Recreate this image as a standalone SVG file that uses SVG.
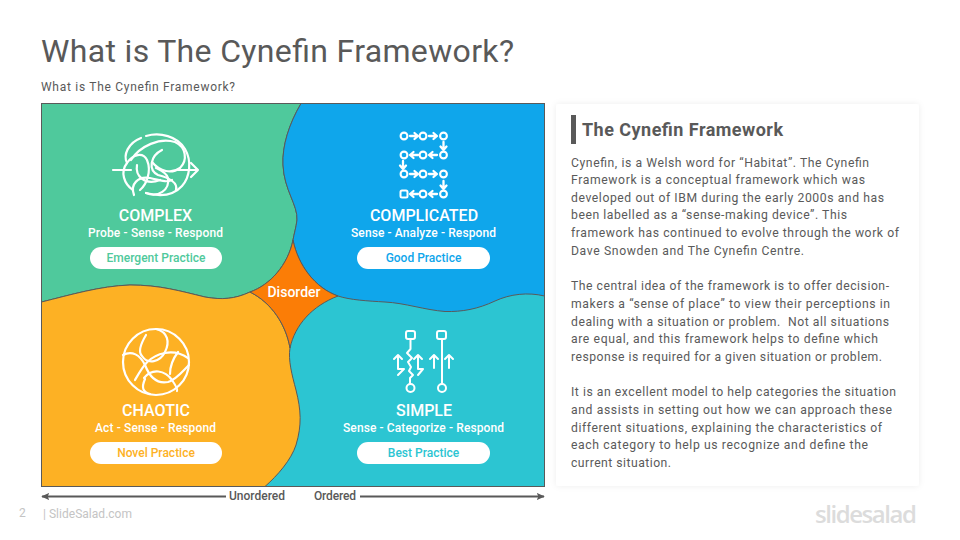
<svg xmlns="http://www.w3.org/2000/svg" width="960" height="540" viewBox="0 0 960 540">
<style>
text{font-family:Roboto,"Liberation Sans",sans-serif}
.reg{stroke:#5a5a5a;stroke-width:1;stroke-linejoin:round}
.ico{fill:none;stroke:#fff;stroke-linecap:round;stroke-linejoin:round}
.h{font-size:16px;font-weight:500;fill:#fff;text-anchor:middle}
.s{font-size:12px;font-weight:500;fill:#fff;text-anchor:middle}
.p{font-size:12px;font-weight:500;text-anchor:middle}
.b{font-size:12.2px;fill:#5a5a5a}
.ax{font-size:12px;font-weight:500;fill:#595959}
</style>
<defs>
<filter id="sh" x="-5%" y="-5%" width="110%" height="110%"><feDropShadow dx="0" dy="0" stdDeviation="3" flood-color="#000" flood-opacity=".07"/></filter>
<marker id="ah" viewBox="0 0 10 10" refX="9" refY="5" markerWidth="8" markerHeight="7" markerUnits="userSpaceOnUse" orient="auto-start-reverse" preserveAspectRatio="none"><path d="M0 0L10 5L0 10L2 5Z" fill="#595959"/></marker>
<g id="ar" class="ico" stroke-width="2.300"><path d="M-4 0H3.500M0.500 -3L4 0L0.500 3"/></g>
<circle id="dot" r="3.400" class="ico" stroke-width="2.100"/>
</defs>
<rect width="960" height="540" fill="#fff"/>
<text x="41" y="62" font-size="32" fill="#595959" textLength="473">What is The Cynefin Framework?</text>
<text x="41" y="91" font-size="12" fill="#595959" textLength="194">What is The Cynefin Framework?</text>

<g id="quadrants">
<rect x="41.500" y="103.500" width="503" height="383" fill="#2cc5d2" stroke="#5a5a5a"/>
<path id="complex-area" class="reg" fill="#4fc99c" d="M41.500 103.500H301C289 124 282 146 283 165C284 190 298 205 297 220C296 228 294 234 293 240C288 265 270 285 250 292C235 299 222 300 205 297C180 291 160 285 130 285C100 286 70 295 41.500 302Z"/>
<path id="complicated-area" class="reg" fill="#0fa6eb" d="M301 103.500H544.500V296C528 292 510 294 495 301C478 309 462 312 445 311.500C425 310 405 303 385 302C368 301 350 300 338 296C315 288 298 265 293 240C294 234 296 228 297 220C298 205 284 190 283 165C282 146 289 124 301 103.500Z"/>
<path id="chaotic-area" class="reg" fill="#fdb124" d="M41.500 302C70 295 100 286 130 285C160 285 180 291 205 297C222 300 235 299 250 292C272 303 286 325 290 348C288 360 292 375 296 390C301 410 302 425 296 445C291 460 278 475 265 486.500H41.500Z"/>
<path id="disorder-area" class="reg" fill="#fb7d06" d="M293 240C298 265 315 288 338 296C312 306 295 325 290 348C286 325 272 303 250 292C270 285 288 265 293 240Z"/>
<rect x="41.500" y="103.500" width="503" height="383" fill="none" stroke="#5a5a5a"/>
</g>

<g id="complex">
<g class="ico" stroke-width="2.200">
<path d="M113 170H131M178 170H198M191 163L198 170L191 177"/>
<path d="M146 136C160 132 177 136 185 149C192 161 190 177 182 186C172 197 157 196 146 193"/>
<path d="M141 138C128 143 123 155 127 163C120 172 124 184 133 190"/>
<path d="M131 160C140 146 160 137 175 142C186 147 188 160 180 168C172 174 160 172 152 162"/>
<path d="M127 163C133 154 143 152 147 160C152 172 146 185 140 190"/>
<path d="M137 165C135 176 145 186 160 180"/>
<path d="M134 195C130 184 138 176 150 178C160 180 165 183 172 180"/>
<path d="M146 193C158 198 170 190 168 178C166 172 160 170 156 168"/>
<path d="M162 150C150 156 148 170 158 175C170 178 178 183 176 190"/>
</g>
<text class="h" x="155.500" y="221">COMPLEX</text>
<text class="s" x="155.500" y="237" textLength="135">Probe - Sense - Respond</text>
<rect x="90" y="247" width="132" height="22" rx="11" fill="#fff"/>
<text class="p" x="156" y="262" fill="#4fc99c">Emergent Practice</text>
</g>

<g id="complicated">
<use href="#dot" x="404" y="136"/><use href="#ar" x="414" y="136"/><use href="#dot" x="423" y="136"/><use href="#ar" x="433" y="136"/><use href="#dot" x="443.500" y="136"/>
<use href="#ar" transform="translate(443.500 146) rotate(90)"/>
<use href="#dot" x="443.500" y="155"/><use href="#ar" transform="translate(433 155) rotate(180)"/><use href="#dot" x="423" y="155"/><use href="#ar" transform="translate(414 155) rotate(180)"/><use href="#dot" x="404" y="155"/>
<use href="#ar" transform="translate(403 165) rotate(90)"/>
<use href="#dot" x="404" y="174"/><use href="#ar" x="414" y="174"/><use href="#dot" x="423" y="174"/><use href="#ar" x="433" y="174"/><use href="#dot" x="443.500" y="174"/>
<use href="#ar" transform="translate(443.500 185) rotate(90)"/>
<use href="#dot" x="443.500" y="194"/><use href="#ar" transform="translate(433 194) rotate(180)"/><use href="#dot" x="423" y="194"/><use href="#ar" transform="translate(414 194) rotate(180)"/>
<rect x="400.500" y="190.500" width="7" height="7" rx="1.500" class="ico" stroke-width="2"/>
<text class="h" x="424" y="221">COMPLICATED</text>
<text class="s" x="423.500" y="237" textLength="145">Sense - Analyze - Respond</text>
<rect x="357" y="247" width="133" height="22" rx="11" fill="#fff"/>
<text class="p" x="423.500" y="262" fill="#0fa6eb">Good Practice</text>
</g>

<g id="chaotic">
<g class="ico" stroke-width="2.200">
<circle cx="156" cy="362" r="33"/>
<path d="M146 335C140 345 138 352 142 356C148 365 160 362 165 352C170 342 168 332 156 329"/>
<path d="M123 355C132 350 140 355 145 365C150 378 158 384 168 382C176 380 182 372 189 365"/>
<path d="M135 380C142 368 148 356 165 353C175 351 182 354 188 358"/>
<path d="M144 378C152 368 165 370 172 380C176 386 178 390 177 391"/>
<path d="M145 379C141 388 143 392 150 394"/>
<path d="M178 352C172 360 170 368 170 374"/>
</g>
<text class="h" x="156" y="416">CHAOTIC</text>
<text class="s" x="155.500" y="432" textLength="121">Act - Sense - Respond</text>
<rect x="90" y="442" width="132" height="22" rx="11" fill="#fff"/>
<text class="p" x="156" y="457" fill="#fdb124">Novel Practice</text>
</g>

<g id="simple">
<g class="ico" stroke-width="2">
<rect x="406" y="331" width="9" height="8" rx="2"/>
<rect x="437" y="331" width="9" height="8" rx="2"/>
<circle cx="410.500" cy="388" r="4"/>
<circle cx="442" cy="388" r="4"/>
<path d="M410.500 339V349L407 353L412 358L408 362L411 367L409 371L413 375L410 378V384"/>
<path d="M442 339V384"/>
<path d="M398 355V369H404L398 375M394 359L398 355L402 359"/>
<path d="M418 355V369H423L418 375M414 359L418 355L422 359"/>
<path d="M434 355V368M430 359L434 355L438 359"/>
<path d="M449 355V368M445 359L449 355L453 359"/>
</g>
<text class="h" x="424" y="416">SIMPLE</text>
<text class="s" x="423.500" y="432" textLength="161">Sense - Categorize - Respond</text>
<rect x="357" y="442" width="133" height="22" rx="11" fill="#fff"/>
<text class="p" x="423.500" y="457" fill="#2cc5d2">Best Practice</text>
</g>

<g id="disorder"><text x="294" y="297" font-size="14" font-weight="500" fill="#fff" text-anchor="middle">Disorder</text></g>

<g id="connectors">
<line x1="226" y1="496.500" x2="42" y2="496.500" stroke="#595959" stroke-width="2" marker-end="url(#ah)"/>
<line x1="360" y1="496.500" x2="544" y2="496.500" stroke="#595959" stroke-width="2" marker-end="url(#ah)"/>
</g>
<text class="ax" x="229" y="500" textLength="56">Unordered</text>
<text class="ax" x="314" y="500" textLength="42">Ordered</text>

<g id="card">
<rect x="556" y="104" width="363" height="382" rx="3" fill="#fff" filter="url(#sh)"/>
<rect x="571" y="115" width="5" height="29" fill="#595959"/>
<text x="582" y="136" font-size="18" font-weight="700" fill="#595959" textLength="201">The Cynefin Framework</text>
<g class="b">
<text x="571" y="166.500" textLength="298">Cynefin, is a Welsh word for “Habitat”. The Cynefin</text>
<text x="571" y="184" textLength="294">Framework is a conceptual framework which was</text>
<text x="571" y="201.500" textLength="313">developed out of IBM during the early 2000s and has</text>
<text x="571" y="219" textLength="276">been labelled as a “sense-making device”. This</text>
<text x="571" y="237" textLength="328">framework has continued to evolve through the work of</text>
<text x="571" y="254.500" textLength="233">Dave Snowden and The Cynefin Centre.</text>
<text x="571" y="290" textLength="318">The central idea of the framework is to offer decision-</text>
<text x="571" y="308" textLength="319">makers a “sense of place” to view their perceptions in</text>
<text x="571" y="325.500" textLength="318" xml:space="preserve">dealing with a situation or problem.  Not all situations</text>
<text x="571" y="343" textLength="307">are equal, and this framework helps to define which</text>
<text x="571" y="361" textLength="311">response is required for a given situation or problem.</text>
<text x="571" y="396" textLength="325">It is an excellent model to help categories the situation</text>
<text x="571" y="414" textLength="321">and assists in setting out how we can approach these</text>
<text x="571" y="431.500" textLength="311">different situations, explaining the characteristics of</text>
<text x="571" y="449" textLength="297">each category to help us recognize and define the</text>
<text x="571" y="466.500" textLength="100">current situation.</text>
</g>
</g>

<text x="19" y="517" font-size="12" fill="#c4c4c4">2</text>
<text x="43" y="518" font-size="12" fill="#c4c4c4" textLength="89">| SlideSalad.com</text>
<text x="815" y="523" font-size="24" font-weight="600" fill="#dcdcdc" style="font-family:'Open Sans',sans-serif" textLength="102">slidesalad</text>
</svg>
